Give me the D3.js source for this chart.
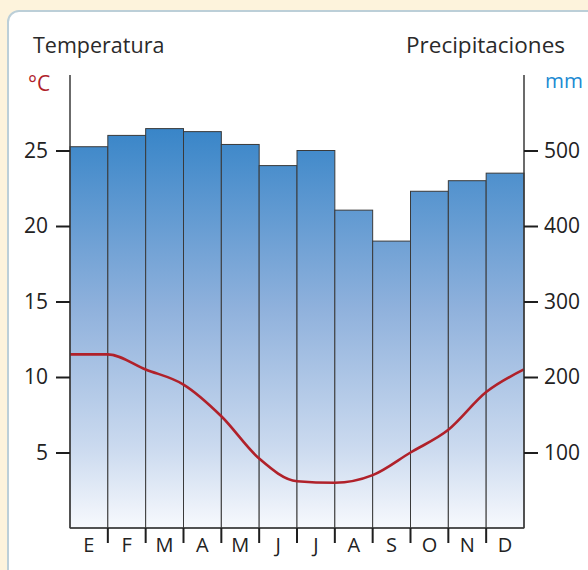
<!DOCTYPE html>
<html>
<head>
<meta charset="utf-8">
<script src="https://cdn.jsdelivr.net/npm/d3@7/dist/d3.min.js"></script>
<style>
  html, body { margin: 0; padding: 0; background: #fdf3dc; }
  svg { display: block; }
</style>
</head>
<body>
<svg id="chart" width="588" height="570"></svg>
<script>
// Monthly climate data
const months = ["E", "F", "M", "A", "M", "J", "J", "A", "S", "O", "N", "D"];
const precipitation = [505, 520, 529, 525, 508, 480, 500, 421, 380, 446, 460, 470]; // mm
// Temperature sampled at month boundaries (start of Jan ... end of Dec)
const temperature = [11.5, 11.5, 10.5, 9.5, 7.4, 4.6, 3.1, 3.0, 3.5, 5.0, 6.5, 9.0, 10.5]; // °C
const tempTicks = [5, 10, 15, 20, 25];
const precTicks = [100, 200, 300, 400, 500];

const svg = d3.select("#chart");
const font = "'Open Sans', 'Noto Sans', sans-serif";

// Card background
svg.append("rect")
  .attr("x", 8).attr("y", 11)
  .attr("width", 620).attr("height", 600)
  .attr("rx", 11).attr("ry", 11)
  .attr("fill", "#ffffff")
  .attr("stroke", "#bccfd8")
  .attr("stroke-width", 2);

const plot = { left: 70, right: 524, top: 75, bottom: 528 };

const xBand = d3.scaleBand().domain(d3.range(12)).range([plot.left, plot.right]).padding(0);
const xEdge = d3.scaleLinear().domain([0, 12]).range([plot.left, plot.right]);
const yT = d3.scaleLinear().domain([0, 30]).range([plot.bottom, plot.top]);
const yP = d3.scaleLinear().domain([0, 600]).range([plot.bottom, plot.top]);

// Vertical gradient for the bars
const defs = svg.append("defs");
const grad = defs.append("linearGradient")
  .attr("id", "barGrad")
  .attr("gradientUnits", "userSpaceOnUse")
  .attr("x1", 0).attr("x2", 0)
  .attr("y1", yP(530)).attr("y2", plot.bottom);
grad.append("stop").attr("offset", "0%").attr("stop-color", "#3885c8");
grad.append("stop").attr("offset", "45%").attr("stop-color", "#8fb1dc");
grad.append("stop").attr("offset", "80%").attr("stop-color", "#cbdaef");
grad.append("stop").attr("offset", "100%").attr("stop-color", "#f7f9fd");

// Precipitation bars
svg.append("g")
  .selectAll("rect")
  .data(precipitation)
  .join("rect")
  .attr("x", (d, i) => xBand(i))
  .attr("y", d => yP(d))
  .attr("width", xBand.bandwidth())
  .attr("height", d => plot.bottom - yP(d))
  .attr("fill", "url(#barGrad)")
  .attr("stroke", "#3a3a3a")
  .attr("stroke-width", 1);

// Temperature curve
const line = d3.line()
  .x((d, i) => xEdge(i))
  .y(d => yT(d))
  .curve(d3.curveMonotoneX);
svg.append("path")
  .datum(temperature)
  .attr("d", line)
  .attr("fill", "none")
  .attr("stroke", "#b0212a")
  .attr("stroke-width", 2.6)
  .attr("stroke-linejoin", "round");

// Left axis (temperature)
const leftAxis = d3.axisLeft(yT).tickValues(tempTicks).tickSize(14).tickPadding(8);
const gL = svg.append("g").attr("transform", `translate(${plot.left},0)`).call(leftAxis);
gL.select(".domain").attr("d", `M0,${plot.top}V${plot.bottom}`);

// Right axis (precipitation)
const rightAxis = d3.axisRight(yP).tickValues(precTicks).tickSize(14).tickPadding(6);
const gR = svg.append("g").attr("transform", `translate(${plot.right},0)`).call(rightAxis);
gR.select(".domain").attr("d", `M0,${plot.top}V${plot.bottom}`);

// Bottom axis with ticks at month boundaries, labels centred in each month
const gB = svg.append("g").attr("transform", `translate(0,${plot.bottom})`);
gB.append("line")
  .attr("x1", plot.left).attr("x2", plot.right)
  .attr("stroke", "#3a3a3a").attr("stroke-width", 1.5);
gB.selectAll("line.tick")
  .data(d3.range(1, 12))
  .join("line")
  .attr("class", "tick")
  .attr("x1", d => xEdge(d)).attr("x2", d => xEdge(d))
  .attr("y1", 0).attr("y2", 15)
  .attr("stroke", "#1e1e1e").attr("stroke-width", 2);
gB.selectAll("text")
  .data(months)
  .join("text")
  .attr("x", (d, i) => xBand(i) + xBand.bandwidth() / 2)
  .attr("y", 24)
  .attr("text-anchor", "middle")
  .attr("font-family", font)
  .attr("font-size", 20)
  .attr("fill", "#222")
  .text(d => d);

[gL, gR].forEach(g => {
  g.select(".domain").attr("stroke", "#3a3a3a").attr("stroke-width", 1.5);
  g.selectAll(".tick line").attr("stroke", "#1e1e1e").attr("stroke-width", 2);
  g.selectAll(".tick text")
    .attr("font-family", font)
    .attr("font-size", 21)
    .attr("fill", "#222");
});

// Titles and units
svg.append("text").attr("x", 33).attr("y", 53)
  .attr("font-family", font).attr("font-size", 21.5).attr("fill", "#2a2a2a")
  .text("Temperatura");
svg.append("text").attr("x", 565).attr("y", 53).attr("text-anchor", "end")
  .attr("font-family", font).attr("font-size", 22.5).attr("fill", "#2a2a2a")
  .text("Precipitaciones");
svg.append("text").attr("x", 28).attr("y", 91)
  .attr("font-family", font).attr("font-size", 21).attr("fill", "#b0212a")
  .text("°C");
svg.append("text").attr("x", 545).attr("y", 88)
  .attr("font-family", font).attr("font-size", 20.5).attr("fill", "#1c8ad2")
  .text("mm");
</script>
</body>
</html>
